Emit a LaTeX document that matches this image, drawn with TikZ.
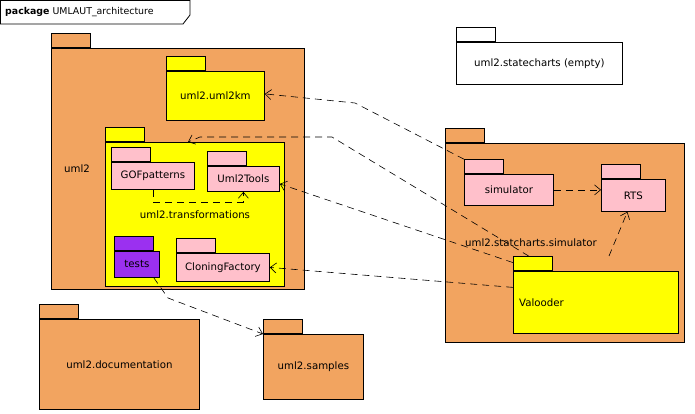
\documentclass[tikz,border=0pt]{standalone}
\usepackage{fontspec}
\setmainfont{DejaVu Sans}
\usepackage{xcolor}
\usetikzlibrary{arrows.meta}
\definecolor{pkgorange}{RGB}{242,164,96}
\definecolor{pkgyellow}{RGB}{255,255,0}
\definecolor{pkgpink}{RGB}{255,192,203}
\definecolor{pkgpurple}{RGB}{155,48,240}
\newcommand{\pkgfont}{\fontsize{10.2}{12}\selectfont}
\tikzset{
pkgbody/.style={rectangle, draw=black, line width=0.8pt, inner sep=0pt, anchor=north west, font=\pkgfont},
pkgtab/.style={rectangle, draw=black, line width=0.8pt, inner sep=0pt, minimum width=39pt, minimum height=14pt, anchor=south west},
pkgtext/.style={inner sep=0pt, font=\pkgfont},
depline/.style={line width=0.6pt, dash pattern=on 7pt off 5pt, -{Straight Barb[length=6pt,width=10pt]}},
}

\begin{document}
\begin{tikzpicture}[x=1pt,y=-1pt]
        \useasboundingbox (0,0) rectangle (695,414);
        \draw[line width=0.8pt] (0.5,0.5) -- (190,0.5) -- (190,15) -- (183,24) -- (0.5,24) -- cycle;
        \node[inner sep=0pt, anchor=west, font=\fontsize{9.4}{11}\selectfont] (title) at (5,12) {\textbf{package} UMLAUT\_architecture};

        % uml2
        \node[pkgbody, fill=pkgorange, minimum width=253pt, minimum height=241pt] at (51,48) (uml2) {};
        \node[pkgtab, fill=pkgorange] at (uml2.north west) (uml2tab) {};
        \node[pkgtext] at (77,169) (uml2label) {uml2};
        \node[pkgbody, fill=pkgyellow, minimum width=98pt, minimum height=49pt] at (166,71) (uml2km) {uml2.uml2km};
        \node[pkgtab, fill=pkgyellow] at (uml2km.north west) (uml2kmtab) {};
        \node[pkgbody, fill=pkgyellow, minimum width=179pt, minimum height=144pt] at (105,142) (transf) {};
        \node[pkgtab, fill=pkgyellow] at (transf.north west) (transftab) {};
        \node[pkgtext] at (195,215) (transflabel) {uml2.transformations};
        \node[pkgbody, fill=pkgpink, minimum width=83pt, minimum height=27pt] at (111,162) (gof) {GOFpatterns};
        \node[pkgtab, fill=pkgpink] at (gof.north west) (goftab) {};
        \node[pkgbody, fill=pkgpink, minimum width=72pt, minimum height=25pt] at (207,166) (tools) {Uml2Tools};
        \node[pkgtab, fill=pkgpink] at (tools.north west) (toolstab) {};
        \node[pkgbody, fill=pkgpurple, minimum width=45pt, minimum height=26pt] at (114,251) (tests) {tests};
        \node[pkgtab, fill=pkgpurple] at (tests.north west) (teststab) {};
        \node[pkgbody, fill=pkgpink, minimum width=93pt, minimum height=28pt] at (176,253) (cloning) {CloningFactory};
        \node[pkgtab, fill=pkgpink] at (cloning.north west) (cloningtab) {};

        % bottom packages
        \node[pkgbody, fill=pkgorange, minimum width=160pt, minimum height=90pt] at (39,319) (doc) {uml2.documentation};
        \node[pkgtab, fill=pkgorange] at (doc.north west) (doctab) {};
        \node[pkgbody, fill=pkgorange, minimum width=100pt, minimum height=65pt] at (263,334) (samples) {uml2.samples};
        \node[pkgtab, fill=pkgorange] at (samples.north west) (samplestab) {};

        % statecharts
        \node[pkgbody, fill=white, minimum width=166pt, minimum height=42pt] at (456,42) (statecharts) {uml2.statecharts (empty)};
        \node[pkgtab, fill=white] at (statecharts.north west) (statechartstab) {};
        \node[pkgbody, fill=pkgorange, minimum width=239pt, minimum height=199pt] at (445,143) (statsim) {};
        \node[pkgtab, fill=pkgorange] at (statsim.north west) (statsimtab) {};
        \node[pkgbody, fill=pkgpink, minimum width=89pt, minimum height=31pt] at (464,174) (sim) {simulator};
        \node[pkgtab, fill=pkgpink] at (sim.north west) (simtab) {};
        \node[pkgbody, fill=pkgpink, minimum width=64pt, minimum height=32pt] at (601,179) (rts) {RTS};
        \node[pkgtab, fill=pkgpink] at (rts.north west) (rtstab) {};
        \node[pkgbody, fill=pkgyellow, minimum width=165pt, minimum height=62pt] at (513,271) (val) {};
        \node[pkgtab, fill=pkgyellow] at (val.north west) (valtab) {};
        \node[pkgtext, anchor=west] at (519,303) (vallabel) {Valooder};
        \node[pkgtext] at (531,243) (statsimlabel) {uml2.statcharts.simulator};

        % dependencies
        \coordinate (b1) at (355,103);
        \coordinate (b2) at (332,137);
        \coordinate (b3) at (200,137);
        \coordinate (b4) at (168,298);
        \coordinate (vr) at (609,256);
        \draw[depline] (simtab.north west) -- (b1) -- ([yshift=2pt]uml2km.east);
        \draw[depline] ([xshift=-4pt]valtab.north) -- (b2) -- (b3) -- ([xshift=83pt]transf.north west);
        \draw[depline] ([yshift=1pt]valtab.west) -- ([yshift=-5pt]tools.east);
        \draw[depline] ([yshift=15pt]val.west) -- (cloning.east);
        \draw[depline] (sim.east) -- (sim.east -| rts.west);
        \draw[depline] (vr) -- ([xshift=-6pt]rts.south);
        \draw[depline] ([xshift=-6pt]tests.south east) -- (b4) -- (samples.north west);
        \draw[depline] (gof.south) -- ++(0,12) -| (tools.south);
    \end{tikzpicture}
\end{document}
